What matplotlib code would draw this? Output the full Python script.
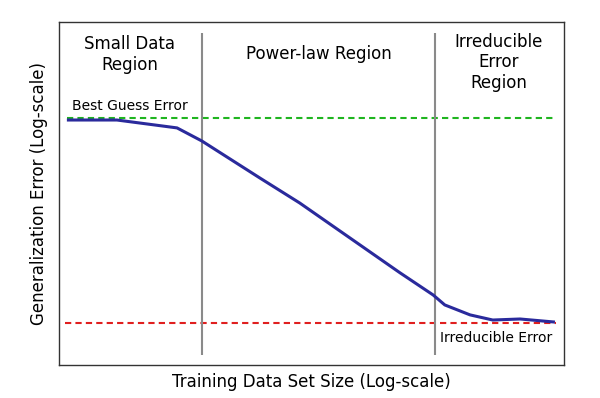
import numpy as np
import matplotlib.pyplot as plt

# learning curve, in axis units (0..10 both ways)
data_size = [0.16, 1.15, 2.34, 2.83, 3.98, 4.77, 6.75, 7.41, 7.64, 8.14, 8.59, 9.13, 9.82]
gen_error = [7.14, 7.14, 6.91, 6.53, 5.45, 4.72, 2.69, 2.04, 1.75, 1.46, 1.31, 1.34, 1.25]

best_guess = 7.20
irreducible = 1.22
region_bounds = [2.83, 7.45]

region_labels = ["Small Data\nRegion", "Power-law Region", "Irreducible\nError\nRegion"]
region_label_x = [1.40, 5.14, 8.71]
region_label_y = [9.06, 9.06, 8.82]

fig = plt.figure(figsize=(6, 3.98), dpi=100)
ax = fig.add_axes([0.098, 0.083, 0.842, 0.862])
ax.set_xlim(0, 10)
ax.set_ylim(0, 10)

ax.hlines(best_guess, 0.16, 9.78, colors="#1fb51f", linestyles=(0, (3, 2)), lw=1.5)
ax.hlines(irreducible, 0.12, 9.84, colors="#e01f1f", linestyles=(0, (3, 2)), lw=1.5)
for b in region_bounds:
    ax.vlines(b, 0.29, 9.68, colors="#8a8a8a", lw=1.5)

ax.plot(data_size, gen_error, color="#2a2a9c", lw=2.2, solid_capstyle="butt")

for lab, lx, ly in zip(region_labels, region_label_x, region_label_y):
    ax.text(lx, ly, lab, ha="center", va="center", fontsize=12, linespacing=1.2)

ax.text(0.26, best_guess + 0.15, "Best Guess Error", ha="left", va="bottom", fontsize=10)
ax.text(7.55, irreducible - 0.22, "Irreducible Error", ha="left", va="top", fontsize=10)

ax.set_xticks([])
ax.set_yticks([])
for s in ax.spines.values():
    s.set_color("#333333")
    s.set_linewidth(1.0)

ax.set_xlabel("Training Data Set Size (Log-scale)", fontsize=12, labelpad=6)
ax.set_ylabel("Generalization Error (Log-scale)", fontsize=12, labelpad=8)

fig.savefig("out.png", dpi=100)
